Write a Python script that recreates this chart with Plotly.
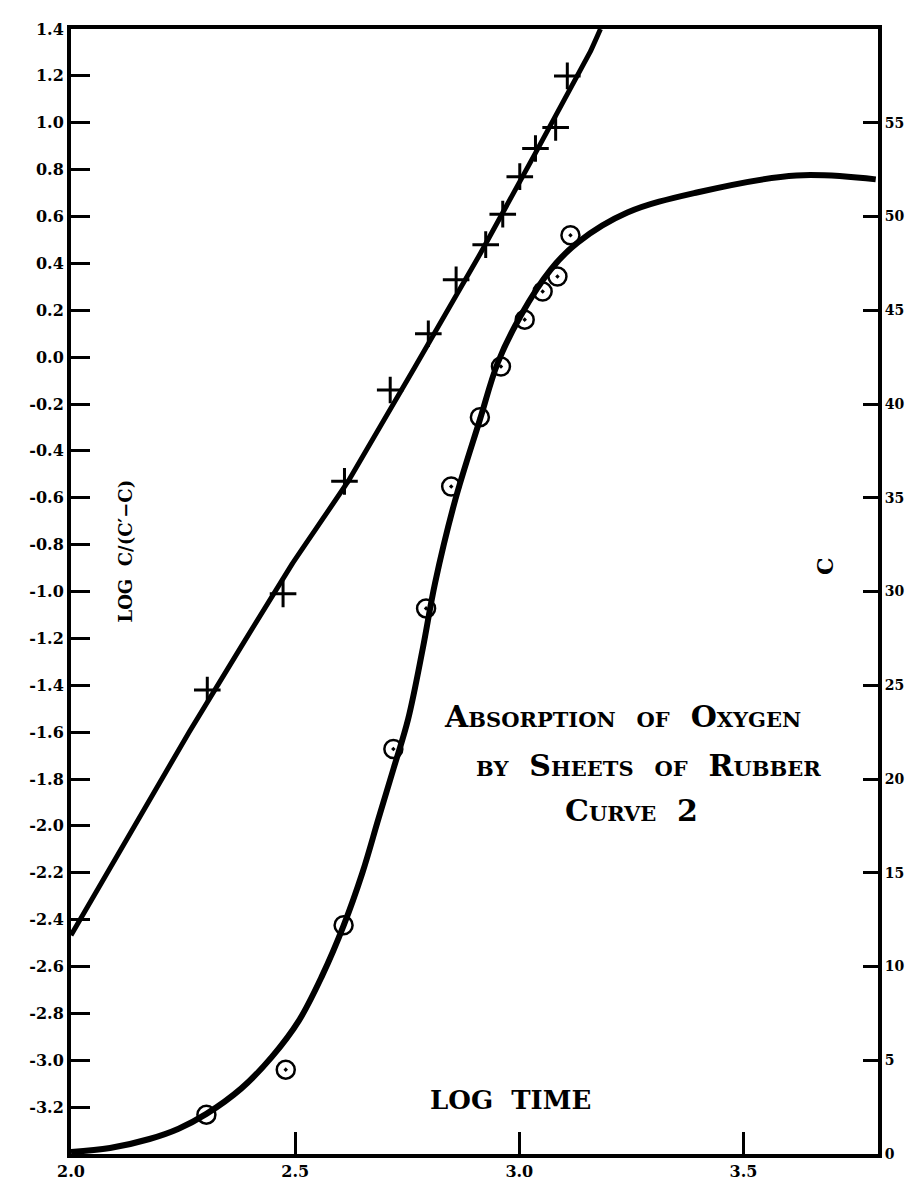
import plotly.graph_objects as go

# ---- data ----
# "+" points: log time vs LOG C/(C'-C)  (left axis)
plus_x = [2.304, 2.473, 2.610, 2.712, 2.797, 2.859, 2.925, 2.963, 3.001, 3.036, 3.081, 3.107]
plus_y = [-1.42, -1.01, -0.53, -0.14, 0.10, 0.33, 0.48, 0.61, 0.77, 0.89, 0.98, 1.20]

# fitted straight line through the "+" points
line_x = [2.000, 2.264, 2.493, 2.619, 2.914, 3.158, 3.181]
line_y = [-2.467, -1.598, -0.883, -0.527, 0.445, 1.302, 1.400]

# circled points: log time vs C (right axis)
circ_x = [2.302, 2.479, 2.608, 2.719, 2.792, 2.848, 2.912, 2.959, 3.012, 3.052, 3.085, 3.114]
circ_c = [2.1, 4.5, 12.2, 21.6, 29.1, 35.6, 39.3, 42.0, 44.5, 46.0, 46.8, 49.0]

# smooth S-curve through the circled points
curve_x = [2.000, 2.087, 2.175, 2.240, 2.302, 2.380, 2.448, 2.508, 2.560, 2.608, 2.650, 2.686,
           2.720, 2.752, 2.785, 2.812, 2.857, 2.912, 2.952, 3.003, 3.070, 3.130, 3.241,
           3.396, 3.618, 3.795]
curve_c = [0.11, 0.32, 0.80, 1.35, 2.14, 3.50, 5.18, 7.10, 9.50, 12.18, 15.0, 17.90,
           20.60, 23.20, 27.0, 30.45, 34.88, 39.16, 42.20, 44.71, 47.17, 48.61, 50.21,
           51.28, 52.19, 51.98]

left_ticks = [round(-3.2 + 0.2 * i, 1) for i in range(24)]
left_labels = ["<b>%.1f</b>" % v for v in left_ticks]
right_ticks = [0, 5, 10, 15, 20, 25, 30, 35, 40, 45, 50, 55]
right_labels = ["<b>%d</b>" % v for v in right_ticks]
x_ticks = [2.0, 2.5, 3.0, 3.5]
x_labels = ["<b>2.0</b>", "<b>2.5</b>", "<b>3.0</b>", "<b>3.5</b>"]

FONT = "DejaVu Serif"

fig = go.Figure()
fig.add_trace(go.Scatter(x=line_x, y=line_y, mode="lines",
                         line=dict(color="black", width=5, shape="spline", smoothing=0.3),
                         showlegend=False, hoverinfo="skip"))
fig.add_trace(go.Scatter(x=plus_x, y=plus_y, mode="markers",
                         marker=dict(symbol="cross-thin", size=19,
                                     line=dict(color="black", width=3)),
                         showlegend=False))
fig.add_trace(go.Scatter(x=curve_x, y=curve_c, mode="lines", yaxis="y2",
                         line=dict(color="black", width=6, shape="spline", smoothing=1.0),
                         showlegend=False, hoverinfo="skip"))
fig.add_trace(go.Scatter(x=circ_x, y=circ_c, mode="markers", yaxis="y2",
                         marker=dict(symbol="circle-open-dot", size=18, color="black",
                                     line=dict(color="black", width=2.5)),
                         showlegend=False))

fig.update_layout(
    width=909, height=1185,
    margin=dict(l=63, r=27, t=19, b=35),
    paper_bgcolor="white", plot_bgcolor="white",
    xaxis=dict(range=[2.0, 3.8], tickvals=x_ticks, ticktext=x_labels,
               ticks="inside", ticklen=22, tickwidth=3, tickcolor="black",
               showline=True, linewidth=4, linecolor="black", mirror=True,
               showgrid=False, zeroline=False,
               tickfont=dict(family=FONT, size=16, color="black")),
    yaxis=dict(range=[-3.4, 1.4], tickvals=left_ticks, ticktext=left_labels,
               ticks="inside", ticklen=19, tickwidth=3, tickcolor="black",
               showline=True, linewidth=4, linecolor="black",
               showgrid=False, zeroline=False,
               tickfont=dict(family=FONT, size=16, color="black")),
    yaxis2=dict(range=[0, 60], tickvals=right_ticks, ticktext=right_labels,
                overlaying="y", side="right",
                ticks="inside", ticklen=15, tickwidth=3, tickcolor="black",
                showline=True, linewidth=4, linecolor="black",
                showgrid=False, zeroline=False,
                tickfont=dict(family=FONT, size=14, color="black")),
)

def sc(big, small, s=21):
    return big + "<span style='font-size:%dpx'>%s</span>" % (s, small)

title_lines = [
    (0.684, 0.389, sc("A", "BSORPTION") + "  " + sc("", "OF") + "  " + sc("O", "XYGEN")),
    (0.715, 0.345, sc("", "BY") + "  " + sc("S", "HEETS") + "  " + sc("", "OF") + "  " + sc("R", "UBBER")),
    (0.695, 0.305, sc("C", "URVE") + "  2"),
]
for x, y, t in title_lines:
    fig.add_annotation(x=x, y=y, xref="paper", yref="paper", text="<b>%s</b>" % t,
                       showarrow=False, font=dict(family=FONT, size=30, color="black"),
                       xanchor="center", yanchor="middle")

fig.add_annotation(x=0.544, y=0.033, xref="paper", yref="paper", text="<b>LOG  TIME</b>",
                   showarrow=False, font=dict(family=FONT, size=26, color="black"))
fig.add_annotation(x=0.052, y=0.536, xref="paper", yref="paper",
                   text="<b>LOG  C/(C′−C)</b>", textangle=-90,
                   showarrow=False, font=dict(family=FONT, size=18, color="black"))
fig.add_annotation(x=0.952, y=0.523, xref="paper", yref="paper", text="<b>C</b>",
                   textangle=-90, showarrow=False,
                   font=dict(family=FONT, size=22, color="black"))

fig.write_html("out.html")
